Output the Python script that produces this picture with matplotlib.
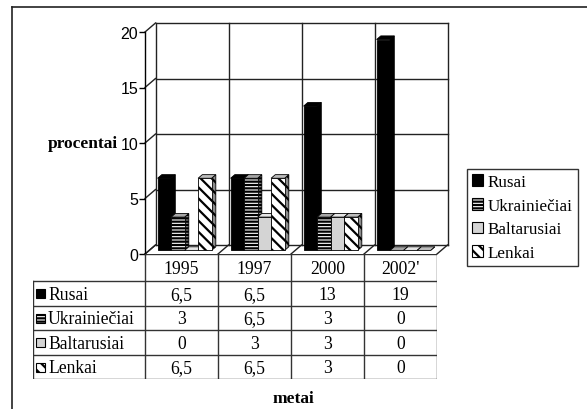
import matplotlib
matplotlib.use("Agg")
import matplotlib.pyplot as plt
from matplotlib.patches import Rectangle, Polygon, Patch
from matplotlib.lines import Line2D

categories = ["1995", "1997", "2000", "2002'"]
series = ["Rusai", "Ukrainiečiai", "Baltarusiai", "Lenkai"]
rusai = [6.5, 6.5, 13, 19]
ukrainieciai = [3, 6.5, 3, 0]
baltarusiai = [0, 3, 3, 0]
lenkai = [6.5, 6.5, 3, 0]
values = [rusai, ukrainieciai, baltarusiai, lenkai]
yticks = [0, 5, 10, 15, 20]

# front, side, top colours and hatch per series
STYLES = [
    {"front": "black", "side": "black", "top": "black", "hatch": None},
    {"front": "white", "side": "#8c8c8c", "top": "#a6a6a6", "hatch": "-----"},
    {"front": "#d4d4d4", "side": "#9a9a9a", "top": "#e6e6e6", "hatch": None},
    {"front": "white", "side": "#8c8c8c", "top": "#bdbdbd", "hatch": "\\\\\\"},
]

plt.rcParams["font.family"] = "Liberation Serif"
plt.rcParams["hatch.linewidth"] = 1.6
plt.rcParams["hatch.color"] = "black"

W, H = 587, 410
fig = plt.figure(figsize=(W / 100, H / 100), dpi=100)

# outer frame (top and left only visible)
fig.add_artist(Line2D([12 / W, 1], [1 - 8 / H, 1 - 8 / H], color="#222222", lw=1.2))
fig.add_artist(Line2D([12 / W, 12 / W], [0, 1 - 8 / H], color="#222222", lw=1.2))

# plot area in pixels
x0_px, x1_px, y0_px, y1_px = 145, 437, 255, 33
ax = fig.add_axes([x0_px / W, 1 - y0_px / H, (x1_px - x0_px) / W, (y0_px - y1_px) / H])
ax.set_xlim(0, len(categories))
ax.set_ylim(0, 20)
ax.patch.set_alpha(0)
for s in ["top", "right", "bottom"]:
    ax.spines[s].set_visible(False)
ax.spines["left"].set_linewidth(1.0)
ax.set_xticks([])
ax.set_yticks(yticks)
ax.set_yticklabels([str(v) for v in yticks], family="Liberation Sans", fontsize=11.5)
ax.tick_params(axis="y", length=4, width=1.0, pad=1)

px_cat = (x1_px - x0_px) / len(categories)
px_unit = (y0_px - y1_px) / 20
ddx = 10.5 / px_cat
ddy = 9 / px_unit
n = len(categories)
gc = "#222222"

# back wall and grid
for v in yticks:
    ax.plot([ddx, n + ddx], [v + ddy, v + ddy], color=gc, lw=1.0, clip_on=False, zorder=1)
    ax.plot([0, ddx], [v, v + ddy], color=gc, lw=1.0, clip_on=False, zorder=1)
for i in range(n + 1):
    ax.plot([i + ddx, i + ddx], [ddy, 20 + ddy], color=gc, lw=1.0, clip_on=False, zorder=1)
    ax.plot([i, i + ddx], [0, ddy], color=gc, lw=1.0, clip_on=False, zorder=1)

# 3D-looking bars
F0, F1 = 0.4, 0.8
bw = 0.185
start = 0.115
z = 3
for i in range(n):
    for j, vals in enumerate(values):
        st = STYLES[j]
        h = vals[i]
        x = i + start + j * bw
        fx, fy = x + F0 * ddx, F0 * ddy
        bx, by = x + F1 * ddx, F1 * ddy
        side = Polygon([(fx + bw, fy), (bx + bw, by), (bx + bw, by + h), (fx + bw, fy + h)],
                       facecolor=st["side"], edgecolor="black", lw=0.6, hatch=st["hatch"],
                       clip_on=False, zorder=z)
        top = Polygon([(fx, fy + h), (fx + bw, fy + h), (bx + bw, by + h), (bx, by + h)],
                      facecolor=st["top"], edgecolor="black", lw=0.6,
                      clip_on=False, zorder=z + 1)
        ax.add_patch(side)
        ax.add_patch(top)
        if h > 0:
            front = Rectangle((fx, fy), bw, h, facecolor=st["front"], edgecolor="black",
                              lw=0.6, hatch=st["hatch"], clip_on=False, zorder=z + 2)
            ax.add_patch(front)
        z += 3

ax.text(-27 / px_cat, 10, "procentai", ha="right", va="center", fontsize=12.5, fontweight="bold")

# data table
lab_px = 112
head_h, row_h = 27, 24.5
tab_h = head_h + row_h * len(series)
tab = fig.add_axes([(x0_px - lab_px) / W, 1 - (y0_px + tab_h) / H, (x1_px - x0_px + lab_px) / W, tab_h / H])
lab_w = lab_px / px_cat
tab.set_xlim(-lab_w, n)
tab.set_ylim(tab_h, 0)
tab.axis("off")
lc = "#333333"
tab.plot([0, n], [0, 0], color=lc, lw=1.0)
for i in range(n + 1):
    tab.plot([i, i], [0, tab_h], color=lc, lw=1.0)
tab.plot([-lab_w, -lab_w], [head_h, tab_h], color=lc, lw=1.0)
for r in range(len(series) + 1):
    tab.plot([-lab_w, n], [head_h + r * row_h] * 2, color=lc, lw=1.0)
for i, c in enumerate(categories):
    tab.text(i + 0.5, head_h / 2 + 1, c, ha="center", va="center", fontsize=12.7)


def fmt(v):
    return str(int(v)) if float(v).is_integer() else str(v).replace(".", ",")


sq = 9
for r, (name, vals) in enumerate(zip(series, values)):
    yc = head_h + r * row_h + row_h / 2
    st = STYLES[r]
    tab.add_patch(Rectangle((-lab_w + 3 / px_cat, yc - sq / 2 + 0.5), sq / px_cat, sq,
                            facecolor=st["front"], edgecolor="black", lw=0.8, hatch=st["hatch"]))
    tab.text(-lab_w + 15 / px_cat, yc + 1, name, ha="left", va="center", fontsize=12.7)
    for i, v in enumerate(vals):
        tab.text(i + 0.5, yc + 1, fmt(v), ha="center", va="center", fontsize=12.7)

fig.text(293 / W, 1 - 399 / H, "metai", ha="center", va="center", fontsize=12.5, fontweight="bold")

# legend
handles = [Patch(facecolor=st["front"], edgecolor="black", lw=0.8, hatch=st["hatch"]) for st in STYLES]
leg = fig.legend(handles, series, loc="upper left", bbox_to_anchor=(467 / W, 1 - 170 / H),
                 fontsize=12.3, frameon=True, fancybox=False, edgecolor="black",
                 handlelength=0.65, handleheight=0.65, handletextpad=0.25, labelspacing=0.45,
                 borderpad=0.3, borderaxespad=0)
leg.get_frame().set_linewidth(1.0)

fig.savefig("out.png", dpi=100)
